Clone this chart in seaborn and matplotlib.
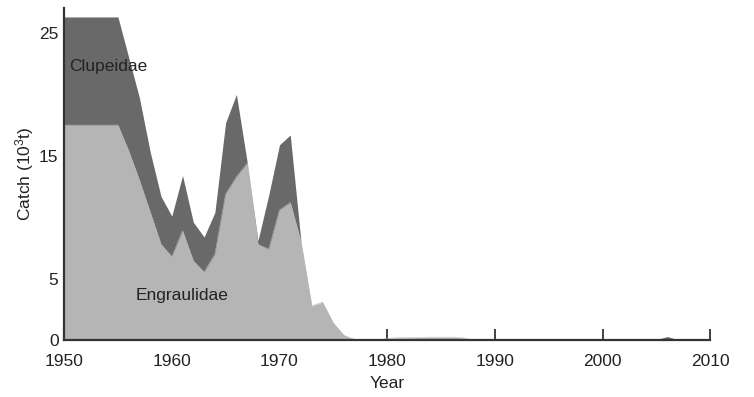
import numpy as np
import pandas as pd
import matplotlib
matplotlib.use("Agg")
import matplotlib.pyplot as plt
import seaborn as sns

years = list(range(1950, 2011))

# Engraulidae catch (10^3 t)
engraulidae = [17.5, 17.5, 17.5, 17.5, 17.5, 17.5,  # 1950-1955
               15.4, 13.0, 10.4, 7.8, 6.8,            # 1956-1960
               8.9, 6.45, 5.55, 7.0, 11.9,            # 1961-1965
               13.3, 14.4, 7.8, 7.4, 10.6,            # 1966-1970
               11.2, 8.0, 2.8, 3.1, 1.4,              # 1971-1975
               0.4, 0.05, 0.0, 0.0, 0.15,             # 1976-1980
               0.2, 0.2, 0.22, 0.25, 0.25,            # 1981-1985
               0.25, 0.2, 0.0, 0.0, 0.0,              # 1986-1990
               0, 0, 0, 0, 0, 0, 0, 0, 0, 0,          # 1991-2000
               0, 0, 0, 0, 0, 0, 0, 0, 0, 0]          # 2001-2010

# Clupeidae catch (10^3 t)
clupeidae = [8.8, 8.8, 8.8, 8.8, 8.8, 8.8,           # 1950-1955
             7.6, 6.7, 4.9, 3.9, 3.3,                 # 1956-1960
             4.5, 3.15, 2.85, 3.4, 5.8,               # 1961-1965
             6.7, 0.1, 0.3, 4.4, 5.3,                 # 1966-1970
             5.5, 0.0, 0.0, 0.0, 0.0,                 # 1971-1975
             0, 0, 0, 0, 0, 0, 0, 0, 0, 0,            # 1976-1985
             0, 0, 0, 0, 0,                           # 1986-1990
             0, 0, 0, 0, 0, 0, 0, 0, 0, 0,            # 1991-2000
             0, 0, 0, 0, 0.05, 0.3, 0.05, 0, 0, 0]    # 2001-2010

labels = ["Clupeidae", "Engraulidae"]
xticks = [1950, 1960, 1970, 1980, 1990, 2000, 2010]
yticks = [0, 5, 15, 25]

df = pd.DataFrame({"Year": years, "Engraulidae": engraulidae, "Clupeidae": clupeidae})
df["Total"] = df["Engraulidae"] + df["Clupeidae"]

sns.set_style("ticks")
plt.rcParams["font.family"] = ["Liberation Sans", "DejaVu Sans"]
plt.rcParams["mathtext.fontset"] = "custom"
plt.rcParams["mathtext.rm"] = "Liberation Sans"
plt.rcParams["mathtext.it"] = "Liberation Sans"
plt.rcParams["mathtext.default"] = "rm"

dark = "#696969"
light = "#b5b5b5"

fig = plt.figure(figsize=(7.54, 3.97), dpi=100)
ax = fig.add_axes([0.085, 0.143, 0.857, 0.836])

ax.fill_between(df["Year"], 0, df["Engraulidae"], color=light, linewidth=0)
ax.fill_between(df["Year"], df["Engraulidae"], df["Total"], color=dark, linewidth=0)
sns.lineplot(data=df, x="Year", y="Engraulidae", ax=ax, color=light, linewidth=0.4)

ax.text(1950.5, 22.3, labels[0], fontsize=12.5, va="center", ha="left", color="#222222")
ax.text(1956.6, 3.6, labels[1], fontsize=12.5, va="center", ha="left", color="#222222")

ax.set_xlim(1950, 2010)
ax.set_ylim(0, 27)
ax.set_xticks(xticks)
ax.set_yticks(yticks)
ax.set_xticklabels([str(t) for t in xticks])
ax.set_yticklabels([str(t) for t in yticks])
ax.tick_params(direction="in", length=8, width=1.3, colors="#333333", labelsize=12.5,
               labelcolor="#222222")
ax.tick_params(axis="x", pad=10)
ax.tick_params(axis="y", pad=4)
ax.set_xlabel("Year", fontsize=12.5, color="#222222", labelpad=5)
ax.set_ylabel(r"Catch (10$^{3}$t)", fontsize=12.5, color="#222222", labelpad=2)
for s in ["top", "right"]:
    ax.spines[s].set_visible(False)
for s in ["left", "bottom"]:
    ax.spines[s].set_linewidth(1.6)
    ax.spines[s].set_color("#333333")
ax.margins(0)

fig.savefig("out.png", dpi=100)
